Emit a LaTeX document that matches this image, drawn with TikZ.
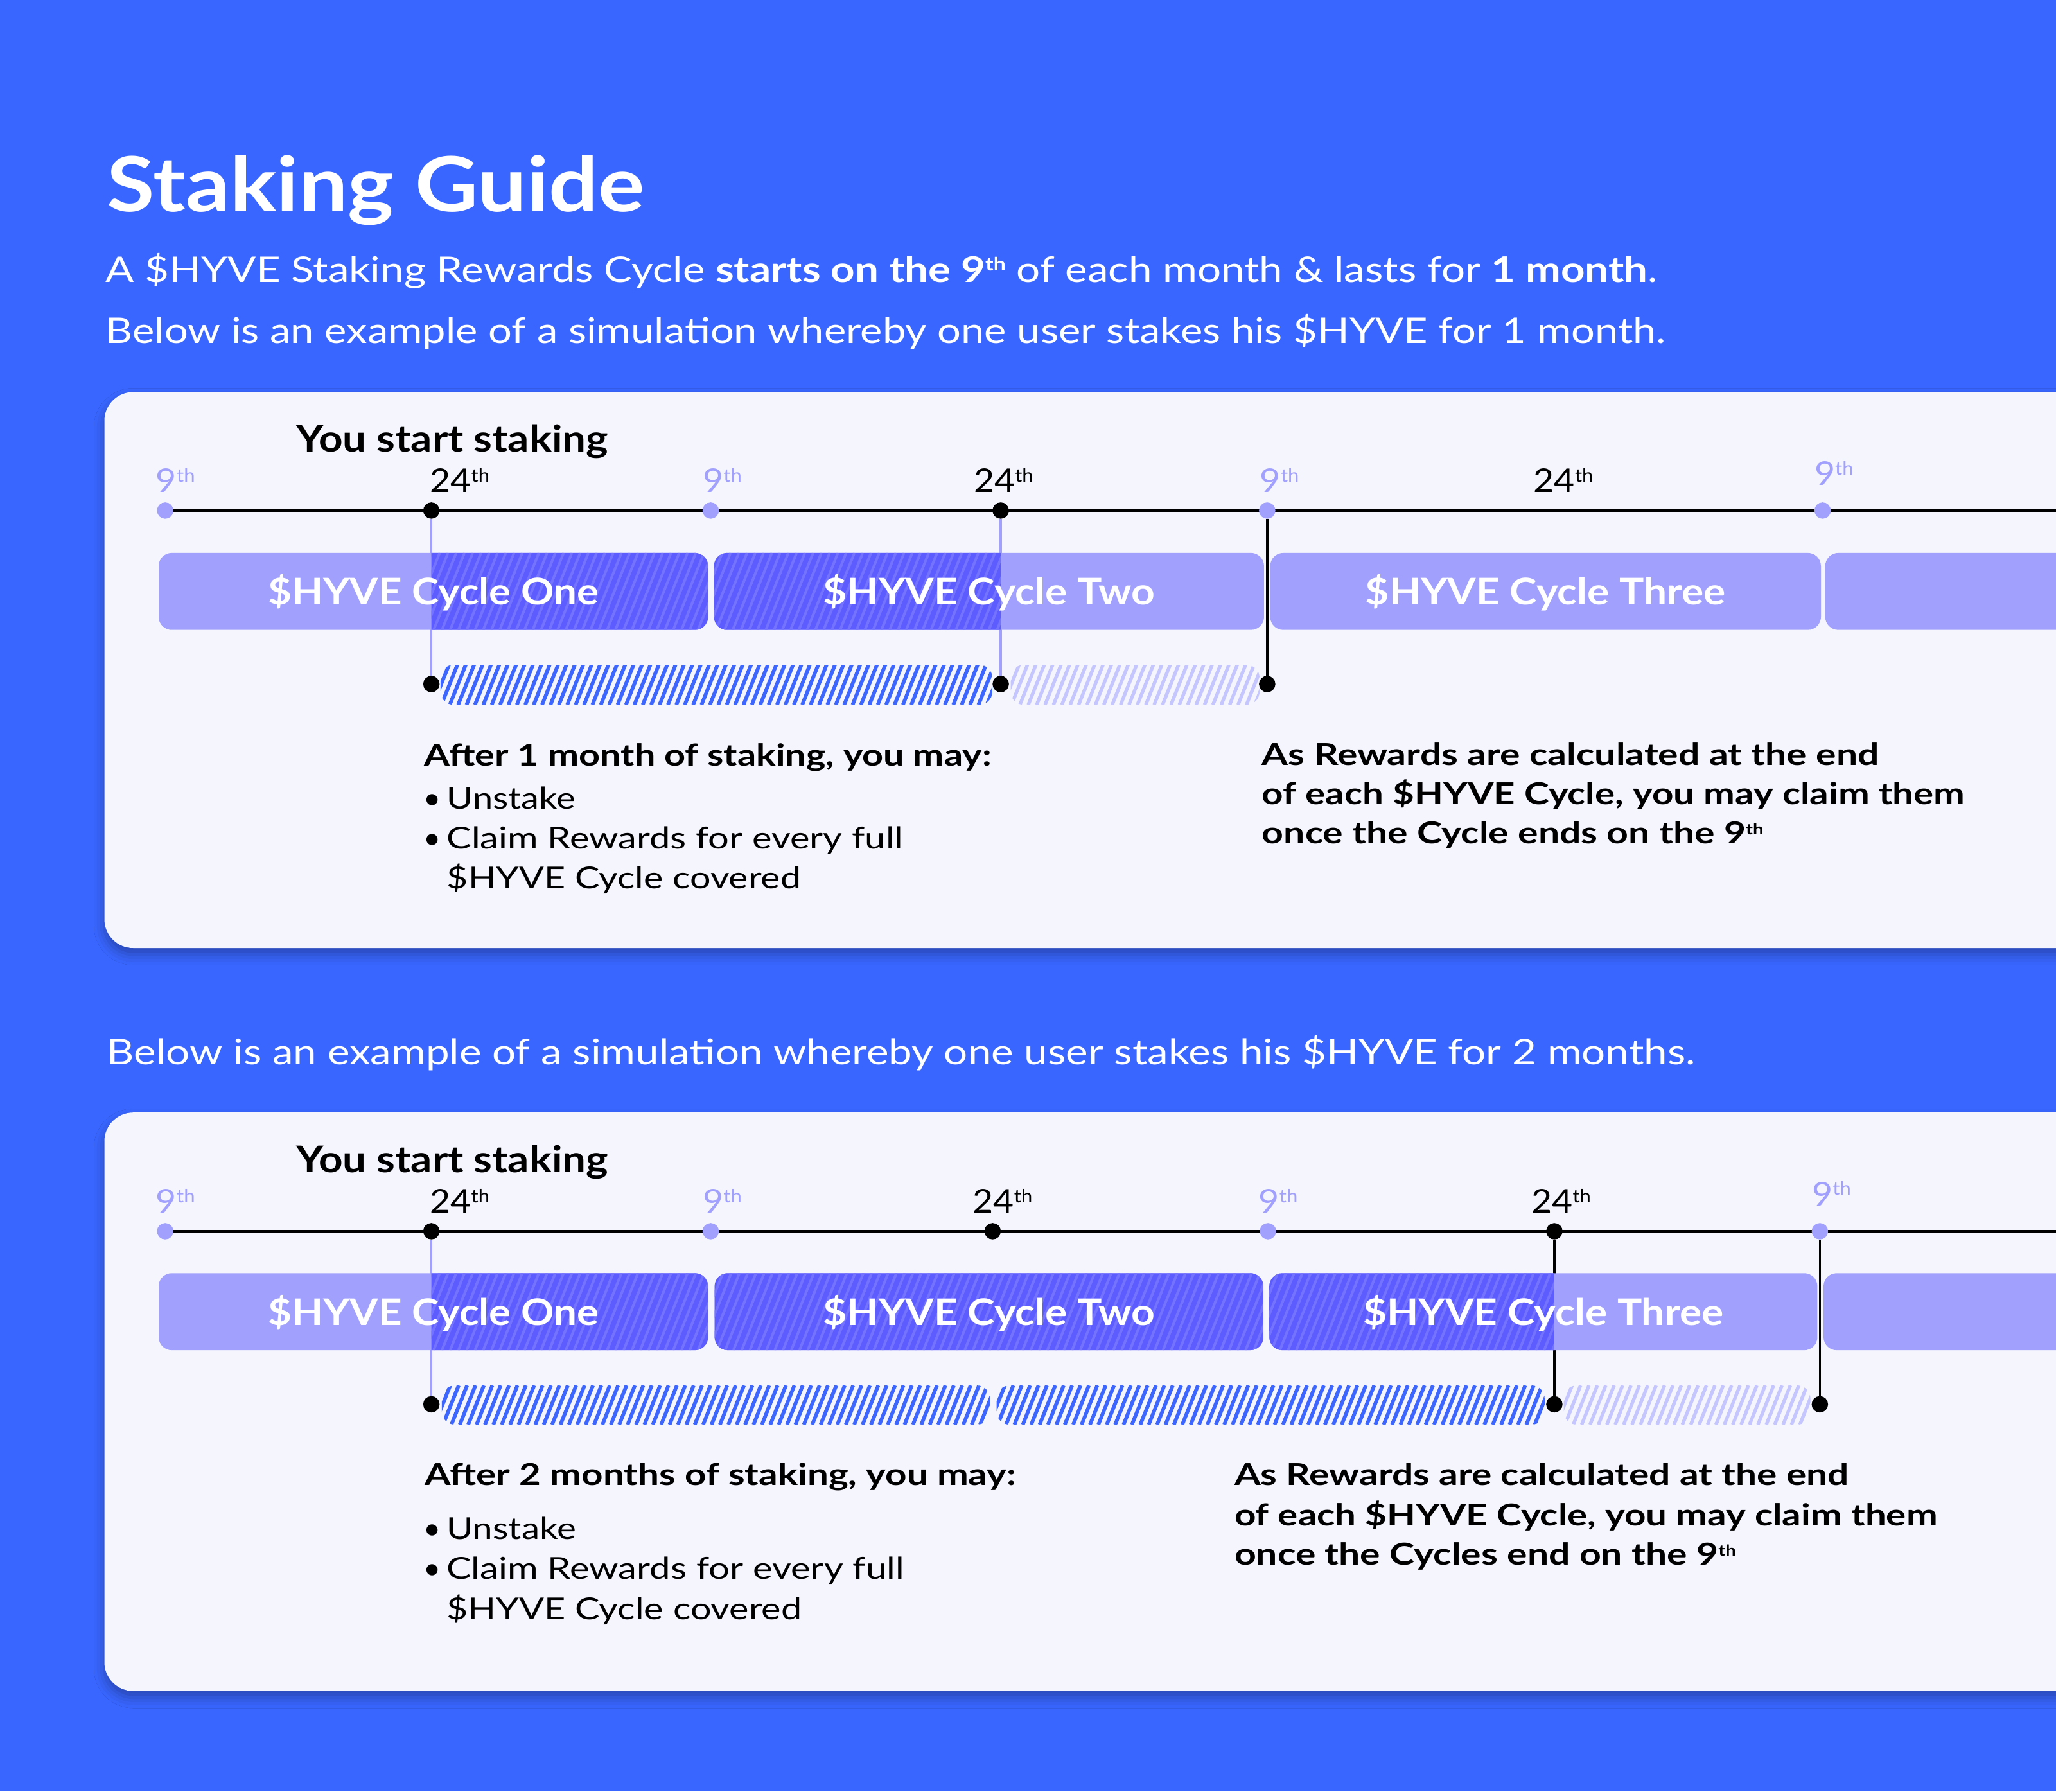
\documentclass[tikz,border=0pt]{standalone}
\usepackage{fontspec}
\setmainfont{Lato}
\usetikzlibrary{shadows.blur}
\definecolor{bgblue}{HTML}{3966FF}
\definecolor{cardc}{HTML}{F5F5FE}
\definecolor{lilac}{HTML}{A1A1FD}
\definecolor{hbase}{HTML}{5C5CFF}
\definecolor{hline}{HTML}{7373FF}
\definecolor{dstripe}{HTML}{3D66FF}
\definecolor{lstripe}{HTML}{C6C6FF}
\newcommand\fitw[2]{\resizebox{#1pt}{\height}{#2}}
\newcommand\supth[2]{\raisebox{#2pt}{\fontsize{#1}{#1}\selectfont th}}
\newcommand\stripes[6]{%
  \pgfmathsetmacro\hh{#4-#2}%
  \pgfmathtruncatemacro\hn{(#3-#1+0.4*\hh)/#5+1}%
  \foreach \i in {0,...,\hn}{\draw[#6] ({#1-0.4*\hh+\i*#5},#4) -- ++({0.4*\hh},{-\hh});}%
}
\begin{document}
\begin{tikzpicture}[x=1pt,y=-1pt,
  txt/.style={inner sep=0pt, outer sep=0pt, anchor=base west},
  ctr/.style={inner sep=0pt, outer sep=0pt, anchor=base},
  wtxt/.style={txt, text=white, font=\fontsize{27}{27}\selectfont},
  htxt/.style={txt, text=black, font=\fontsize{28}{28}\selectfont\bfseries},
  btxt/.style={txt, text=black, font=\fontsize{23}{23}\selectfont\bfseries},
  rtxt/.style={txt, text=black, font=\fontsize{23}{23}\selectfont},
  lab9/.style={txt, text=lilac, font=\fontsize{25}{25}\selectfont},
  lab24/.style={txt, text=black, font=\fontsize{25}{25}\selectfont},
  cyc/.style={ctr, text=white, font=\fontsize{28}{28}\selectfont\bfseries},
  dotp/.style={circle, fill=lilac, inner sep=0pt, minimum size=12.5pt, outer sep=0pt},
  dotk/.style={circle, fill=black, inner sep=0pt, minimum size=12.5pt, outer sep=0pt},
  tline/.style={draw=black, line width=1.8pt},
  vlp/.style={draw=lilac, line width=1.6pt},
  vlk/.style={draw=black, line width=1.6pt},
  cbar/.style={fill=lilac, rounded corners=10pt},
  card/.style={fill=cardc, rounded corners=22pt, blur shadow={shadow xshift=0pt, shadow yshift=-5pt, shadow blur radius=8pt, shadow opacity=30}},
  hl/.style={draw=hline, line width=2pt},
  ds/.style={draw=dstripe, line width=2.8pt},
  ls/.style={draw=lstripe, line width=2.6pt}
]
\useasboundingbox (0,0) rectangle (1568,1366.2);
\clip (0,0) rectangle (1568,1366.2);
\fill[bgblue] (0,0) rectangle (1568,1366.2);

% header texts
\node[txt, text=white, font=\fontsize{58}{58}\selectfont\bfseries] (title) at (81.8,161.3) {\fitw{410}{Staking Guide}};
\node[wtxt] (intro1) at (80.8,215.5) {\fitw{1183.5}{A \$HYVE Staking Rewards Cycle \textbf{starts on the 9\supth{14}{9}} of each month \& lasts for \textbf{1 month}.}};
\node[wtxt] (intro2) at (80.8,262) {\fitw{1189.6}{Below is an example of a simulation whereby one user stakes his \$HYVE for 1 month.}};
\node[wtxt] (intro3) at (81.8,812) {\fitw{1211}{Below is an example of a simulation whereby one user stakes his \$HYVE for 2 months.}};

% cards
\fill[card] (79.6,299) rectangle (1640,723);
\fill[card] (79.6,848.5) rectangle (1640,1289.6);

%================ CARD 1 ================
\node[htxt] (ys1) at (225.9,344.6) {\fitw{238}{You start staking}};
\node[lab9] (l1a) at (119,375.5) {\fitw{29.7}{9\supth{14}{8}}};
\node[lab24] (l1b) at (328,375.5) {\fitw{45.3}{24\supth{14}{8}}};
\node[lab9] (l1c) at (536,375.5) {\fitw{29.7}{9\supth{14}{8}}};
\node[lab24] (l1d) at (742.7,375.5) {\fitw{45.3}{24\supth{14}{8}}};
\node[lab9] (l1e) at (961,375.5) {\fitw{29.7}{9\supth{14}{8}}};
\node[lab24] (l1f) at (1169.7,375.5) {\fitw{45.3}{24\supth{14}{8}}};
\node[lab9] (l1g) at (1383.8,370) {\fitw{29.7}{9\supth{14}{8}}};

\coordinate (t1s) at (126,389.4);
\coordinate (t1e) at (1640,389.4);
\draw[tline] (t1s) -- (t1e);
\node[dotp] (d1a) at (126,389.4) {};
\node[dotk] (d1b) at (329,389.4) {};
\node[dotp] (d1c) at (542,389.4) {};
\node[dotk] (d1d) at (763.2,389.4) {};
\node[dotp] (d1e) at (966.4,389.4) {};
\node[dotp] (d1f) at (1390,389.4) {};
\node[dotk] (b1a) at (329,521.7) {};
\node[dotk] (b1b) at (763.2,521.7) {};
\node[dotk] (b1c) at (966.4,521.7) {};
\draw[vlp] (d1b) -- (b1a);
\draw[vlp] (d1d) -- (b1b);
\draw[vlk] (d1e) -- (b1c);

\fill[cbar] (121,421.7) rectangle (540,480.4);
\fill[cbar] (544.5,421.7) rectangle (964,480.4);
\fill[cbar] (968.7,421.7) rectangle (1388.7,480.4);
\fill[cbar] (1392,421.7) rectangle (1640,480.4);
\begin{scope}
  \clip[rounded corners=10pt] (121,421.7) rectangle (540,480.4);
  \clip (329,400) rectangle (560,500);
  \fill[hbase] (300,410) rectangle (560,490);
  \stripes{329}{421.7}{540}{480.4}{6.3}{hl}
\end{scope}
\begin{scope}
  \clip[rounded corners=10pt] (544.5,421.7) rectangle (964,480.4);
  \clip (530,400) rectangle (763.2,500);
  \fill[hbase] (530,410) rectangle (763.2,490);
  \stripes{544.5}{421.7}{763.2}{480.4}{6.3}{hl}
\end{scope}
\node[cyc] (c1a) at (330.5,461.3) {\fitw{252}{\$HYVE Cycle One}};
\node[cyc] (c1b) at (754.3,461.3) {\fitw{253}{\$HYVE Cycle Two}};
\node[cyc] (c1c) at (1178.7,461.3) {\fitw{274.7}{\$HYVE Cycle Three}};

\begin{scope}
  \clip[rounded corners=10pt] (336,507) rectangle (756.8,537.5);
  \stripes{336}{507}{756.8}{537.5}{6.4}{ds}
\end{scope}
\begin{scope}
  \clip[rounded corners=10pt] (770.8,507) rectangle (960.6,537.5);
  \stripes{770.8}{507}{960.6}{537.5}{6.4}{ls}
\end{scope}

\node[btxt] (a1h) at (323.6,584) {\fitw{432.4}{After 1 month of staking, you may:}};
\node[rtxt] (a1u0) at (323,617) {\textbullet};
\node[rtxt] (a1u) at (340.8,617) {\fitw{98}{Unstake}};
\node[rtxt] (a1c0) at (323,647.5) {\textbullet};
\node[rtxt] (a1c) at (340.8,647.5) {\fitw{348}{Claim Rewards for every full}};
\node[rtxt] (a1d) at (340.8,677.5) {\fitw{270}{\$HYVE Cycle covered}};
\node[btxt] (r1a) at (962.5,583.7) {\fitw{470.5}{As Rewards are calculated at the end}};
\node[btxt] (r1b) at (962.5,613.5) {\fitw{536}{of each \$HYVE Cycle, you may claim them}};
\node[btxt] (r1c) at (962.5,643.5) {\fitw{382.5}{once the Cycle ends on the 9\supth{11.5}{7}}};

%================ CARD 2 ================
\node[htxt] (ys2) at (225.9,894.1) {\fitw{238}{You start staking}};
\node[lab9] (l2a) at (119,925) {\fitw{29.7}{9\supth{14}{8}}};
\node[lab24] (l2b) at (328,925) {\fitw{45.3}{24\supth{14}{8}}};
\node[lab9] (l2c) at (536,925) {\fitw{29.7}{9\supth{14}{8}}};
\node[lab24] (l2d) at (742,925) {\fitw{45.3}{24\supth{14}{8}}};
\node[lab9] (l2e) at (960,925) {\fitw{29.7}{9\supth{14}{8}}};
\node[lab24] (l2f) at (1168,925) {\fitw{45.3}{24\supth{14}{8}}};
\node[lab9] (l2g) at (1382,919.5) {\fitw{29.7}{9\supth{14}{8}}};

\coordinate (t2s) at (126,939);
\coordinate (t2e) at (1640,939);
\draw[tline] (t2s) -- (t2e);
\node[dotp] (d2a) at (126,939) {};
\node[dotk] (d2b) at (329,939) {};
\node[dotp] (d2c) at (542,939) {};
\node[dotk] (d2d) at (757,939) {};
\node[dotp] (d2e) at (967,939) {};
\node[dotk] (d2f) at (1185.4,939) {};
\node[dotp] (d2g) at (1387.9,939) {};
\node[dotk] (b2a) at (329,1071) {};
\node[dotk] (b2b) at (1185.4,1071) {};
\node[dotk] (b2c) at (1387.9,1071) {};
\draw[vlp] (d2b) -- (b2a);
\draw[vlk] (d2f) -- (b2b);
\draw[vlk] (d2g) -- (b2c);

\fill[cbar] (121,971) rectangle (540,1029.7);
\fill[cbar] (545,971) rectangle (963.5,1029.7);
\fill[cbar] (968,971) rectangle (1386,1029.7);
\fill[cbar] (1390.7,971) rectangle (1640,1029.7);
\begin{scope}
  \clip[rounded corners=10pt] (121,971) rectangle (540,1029.7);
  \clip (329,950) rectangle (560,1050);
  \fill[hbase] (300,960) rectangle (560,1040);
  \stripes{329}{971}{540}{1029.7}{6.3}{hl}
\end{scope}
\begin{scope}
  \clip[rounded corners=10pt] (545,971) rectangle (963.5,1029.7);
  \fill[hbase] (530,960) rectangle (980,1040);
  \stripes{545}{971}{963.5}{1029.7}{6.3}{hl}
\end{scope}
\begin{scope}
  \clip[rounded corners=10pt] (968,971) rectangle (1386,1029.7);
  \clip (950,950) rectangle (1185.4,1050);
  \fill[hbase] (950,960) rectangle (1185.4,1040);
  \stripes{968}{971}{1185.4}{1029.7}{6.3}{hl}
\end{scope}
\node[cyc] (c2a) at (330.5,1010.7) {\fitw{252}{\$HYVE Cycle One}};
\node[cyc] (c2b) at (754.3,1010.7) {\fitw{253}{\$HYVE Cycle Two}};
\node[cyc] (c2c) at (1177,1010.7) {\fitw{274.7}{\$HYVE Cycle Three}};

\begin{scope}
  \clip[rounded corners=10pt] (337,1056.6) rectangle (755,1086.5);
  \stripes{337}{1056.6}{755}{1086.5}{6.4}{ds}
\end{scope}
\begin{scope}
  \clip[rounded corners=10pt] (760,1056.6) rectangle (1178,1086.5);
  \stripes{760}{1056.6}{1178}{1086.5}{6.4}{ds}
\end{scope}
\begin{scope}
  \clip[rounded corners=10pt] (1192.6,1056.6) rectangle (1380.7,1086.5);
  \stripes{1192.6}{1056.6}{1380.7}{1086.5}{6.4}{ls}
\end{scope}

\node[btxt] (a2h) at (324,1132.8) {\fitw{451}{After 2 months of staking, you may:}};
\node[rtxt] (a2u0) at (323,1173.7) {\textbullet};
\node[rtxt] (a2u) at (340.5,1173.7) {\fitw{99}{Unstake}};
\node[rtxt] (a2c0) at (323,1204.2) {\textbullet};
\node[rtxt] (a2c) at (340.5,1204.2) {\fitw{349}{Claim Rewards for every full}};
\node[rtxt] (a2d) at (340.5,1235.2) {\fitw{271}{\$HYVE Cycle covered}};
\node[btxt] (r2a) at (941.5,1132.8) {\fitw{468.5}{As Rewards are calculated at the end}};
\node[btxt] (r2b) at (941.5,1163.4) {\fitw{536}{of each \$HYVE Cycle, you may claim them}};
\node[btxt] (r2c) at (941.5,1193.6) {\fitw{382.5}{once the Cycles end on the 9\supth{11.5}{7}}};
\end{tikzpicture}
\end{document}
